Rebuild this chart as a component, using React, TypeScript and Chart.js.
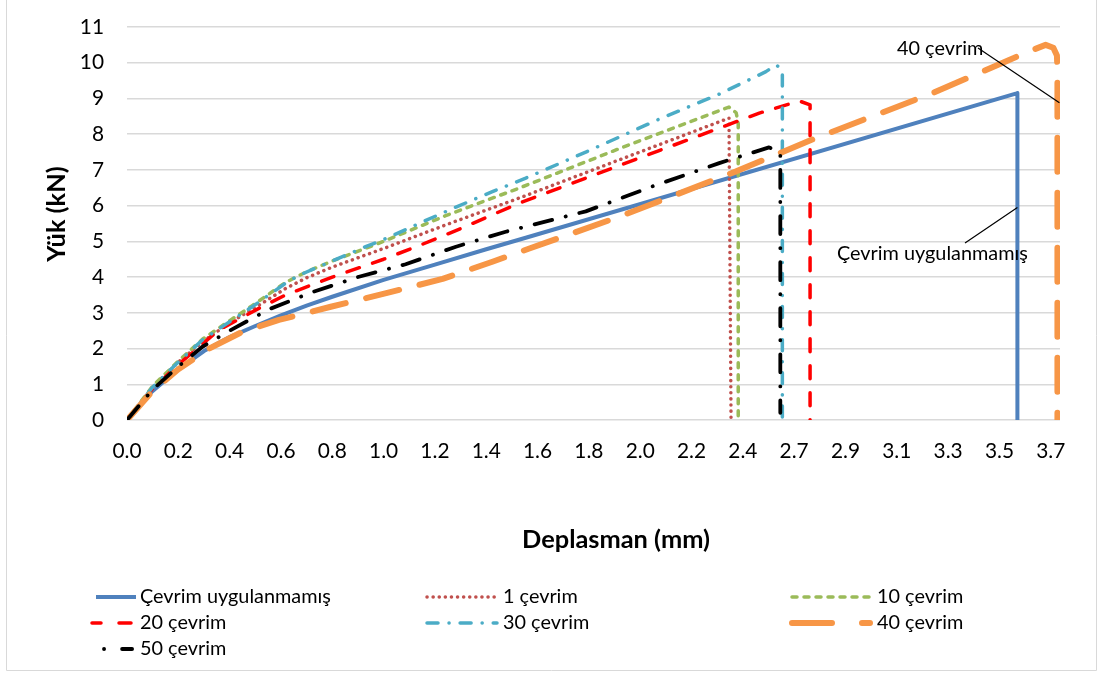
import React, { useEffect, useRef } from 'react';
import { Chart, registerables } from 'chart.js';

Chart.register(...registerables);

const FONT = 'Lato, "Open Sans", sans-serif';

// Category-axis tick labels (Deplasman, mm)
const xTickLabels = ['0.0', '0.2', '0.4', '0.6', '0.8', '1.0', '1.2', '1.4', '1.6', '1.8', '2.0', '2.2', '2.4', '2.7', '2.9', '3.1', '3.3', '3.5', '3.7'];
const yTickValues = [0, 1, 2, 3, 4, 5, 6, 7, 8, 9, 10, 11];

const seriesNames = ['Çevrim uygulanmamış', '1 çevrim', '10 çevrim', '20 çevrim', '30 çevrim', '40 çevrim', '50 çevrim'];

// x = position along the category axis (1 unit = one tick label step), y = Yük (kN)
const x0 = [0, 0.49, 1.0, 1.5, 2.0, 2.5, 3.0, 3.5, 4.0, 5.0, 6.0, 7.0, 7.77, 17.35, 17.35];
const y0 = [0, 0.8, 1.42, 1.93, 2.32, 2.63, 2.93, 3.2, 3.45, 3.92, 4.35, 4.78, 5.1, 9.15, 0];

const x1 = [0, 0.5, 1.0, 1.5, 2.0, 2.5, 3.09, 3.5, 4.0, 5.0, 6.21, 7.64, 9.59, 11.73, 11.77];
const y1 = [0, 0.92, 1.62, 2.22, 2.72, 3.15, 3.68, 3.98, 4.28, 4.8, 5.46, 6.21, 7.28, 8.45, 0];

const x10 = [0, 0.5, 1.0, 1.47, 2.0, 2.44, 3.09, 3.5, 4.0, 5.0, 6.21, 7.64, 9.6, 11.73, 11.87, 11.91, 11.91];
const y10 = [0, 0.95, 1.65, 2.26, 2.78, 3.2, 3.85, 4.15, 4.45, 5.0, 5.72, 6.49, 7.6, 8.76, 8.6, 8.3, 0];

const x20 = [0, 0.5, 1.0, 1.79, 2.63, 3.09, 4.0, 4.5, 5.0, 5.69, 6.54, 7.64, 8.94, 10.37, 11.54, 12.32, 13.1, 13.31, 13.31];
const y20 = [0, 0.88, 1.55, 2.52, 3.17, 3.5, 4.0, 4.25, 4.5, 4.88, 5.38, 6.07, 6.77, 7.54, 8.17, 8.59, 8.93, 8.82, 0];

const x30 = [0, 0.5, 1.0, 1.47, 2.0, 2.44, 3.09, 3.35, 4.0, 4.65, 5.0, 5.69, 6.41, 7.12, 7.77, 8.94, 10.37, 11.54, 12.45, 12.65, 12.77, 12.77];
const y30 = [0, 0.92, 1.62, 2.24, 2.75, 3.17, 3.83, 4.05, 4.45, 4.85, 5.05, 5.5, 5.96, 6.39, 6.77, 7.5, 8.42, 9.12, 9.75, 9.94, 9.8, 0];

const x40 = [0, 0.49, 1.0, 1.6, 2.25, 2.96, 3.97, 5.11, 6.15, 7.12, 7.84, 9.59, 11.87, 13.42, 15.7, 17.58, 17.9, 18.05, 18.12, 18.13, 18.13];
const y40 = [0, 0.8, 1.42, 2.0, 2.47, 2.8, 3.17, 3.57, 3.95, 4.43, 4.8, 5.69, 6.96, 7.89, 9.15, 10.32, 10.5, 10.42, 10.2, 9.8, 0];

const x50 = [0, 0.49, 1.0, 1.47, 2.0, 2.77, 3.61, 4.52, 5.43, 6.41, 7.38, 8.94, 10.24, 11.54, 12.51, 12.73, 12.73];
const y50 = [0, 0.84, 1.5, 2.05, 2.5, 3.1, 3.58, 4.01, 4.36, 4.85, 5.27, 5.84, 6.54, 7.19, 7.63, 7.48, 0.2];

const seriesX = [x0, x1, x10, x20, x30, x40, x50];
const seriesY = [y0, y1, y10, y20, y30, y40, y50];

const colors = ['#4f81bd', '#c0504d', '#9bbb59', '#ff0000', '#4bacc6', '#f79646', '#000000'];
const widths = [4, 3.5, 3.5, 3.5, 3.5, 6, 3.8];
const dashFor: number[][] = [[], [0.1, 6], [5, 7], [13, 14], [11, 11, 0.1, 11], [34, 21], [18, 14, 0.1, 14]];
const legendDash: number[][] = [[], [0.1, 6], [5, 7], [9, 18, 12, 60], [11, 11, 0.1, 11], [40, 30], [0.1, 18, 10, 60]];
const legendStart = [96, 427, 792, 92, 427, 792, 104];

export default function App() {
  const ref = useRef<HTMLCanvasElement>(null);

  useEffect(() => {
    document.body.style.margin = '0';
    const canvas = ref.current!;
    const mctx = canvas.getContext('2d')!;
    mctx.font = `100px ${FONT}`;
    const fs = (100 * 191) / mctx.measureText('Çevrim uygulanmamış').width;
    mctx.font = `bold 100px ${FONT}`;
    const fsb = (100 * 188) / mctx.measureText('Deplasman (mm)').width;
    const fst = fs + 1;

    const overlay = {
      id: 'overlay',
      afterDraw(chart: any) {
        const ctx = chart.ctx as CanvasRenderingContext2D;
        const xs = chart.scales.x;
        const ys = chart.scales.y;
        ctx.save();
        // outer border
        ctx.strokeStyle = '#d9d9d9';
        ctx.lineWidth = 1;
        ctx.beginPath();
        ctx.moveTo(6.5, 0);
        ctx.lineTo(6.5, 670.5);
        ctx.lineTo(1096.5, 670.5);
        ctx.lineTo(1096.5, 0);
        ctx.stroke();

        ctx.fillStyle = '#000';
        // axis titles
        ctx.font = `bold ${fsb}px ${FONT}`;
        ctx.textAlign = 'center';
        ctx.textBaseline = 'middle';
        ctx.fillText('Deplasman (mm)', 616, 540);
        ctx.save();
        ctx.translate(57, 214);
        ctx.rotate(-Math.PI / 2);
        ctx.fillText('Yük (kN)', 0, 0);
        ctx.restore();

        // data labels with leader lines
        ctx.font = `${fs}px ${FONT}`;
        ctx.textAlign = 'left';
        ctx.fillText('40 çevrim', 897, 49);
        ctx.fillText('Çevrim uygulanmamış', 837, 254);
        ctx.strokeStyle = '#000';
        ctx.lineWidth = 1.2;
        ctx.beginPath();
        ctx.moveTo(978, 48);
        ctx.lineTo(xs.getPixelForValue(x40[x40.length - 1]) + 2, ys.getPixelForValue(8.88));
        ctx.moveTo(965, 243);
        ctx.lineTo(xs.getPixelForValue(x0[x0.length - 1]), ys.getPixelForValue(5.95));
        ctx.stroke();

        // legend
        const cols = [[136, 140], [497, 503], [870, 877]];
        const rows = [597, 623, 649];
        seriesNames.forEach((name, i) => {
          const c = cols[i % 3];
          const y = rows[Math.floor(i / 3)];
          ctx.save();
          ctx.strokeStyle = colors[i];
          ctx.lineWidth = widths[i];
          ctx.lineCap = legendDash[i].length ? 'round' : 'butt';
          ctx.setLineDash(legendDash[i]);
          ctx.beginPath();
          ctx.moveTo(legendStart[i], y);
          ctx.lineTo(c[0], y);
          ctx.stroke();
          ctx.restore();
          ctx.fillStyle = '#000';
          ctx.font = `${fs}px ${FONT}`;
          ctx.textAlign = 'left';
          ctx.textBaseline = 'middle';
          ctx.fillText(name, c[1], y);
        });
        ctx.restore();
      },
    };

    const chart = new Chart(canvas, {
      type: 'line',
      data: {
        datasets: seriesNames.map((name, i) => ({
          label: name,
          data: seriesX[i].map((x, j) => ({ x, y: seriesY[i][j] })),
          borderColor: colors[i],
          backgroundColor: colors[i],
          borderWidth: widths[i],
          borderDash: dashFor[i],
          borderCapStyle: dashFor[i].length ? 'round' : 'butt',
          borderJoinStyle: 'round',
          pointRadius: 0,
          fill: false,
          tension: 0,
          order: 6 - i,
        })),
      },
      options: {
        responsive: false,
        animation: false,
        events: [],
        layout: { padding: { left: 0, top: 27, right: 43, bottom: 0 } },
        plugins: { legend: { display: false }, tooltip: { enabled: false } },
        scales: {
          x: {
            type: 'linear',
            min: 0,
            max: 18.18,
            grid: { display: false },
            border: { display: false },
            afterBuildTicks: (s: any) => {
              s.ticks = xTickLabels.map((_, i) => ({ value: i }));
            },
            afterFit: (s: any) => {
              s.height = 257;
              s.paddingLeft = 0;
              s.paddingRight = 0;
            },
            ticks: {
              autoSkip: false,
              maxRotation: 0,
              minRotation: 0,
              padding: 11,
              color: '#000',
              font: { family: FONT, size: fst },
              callback: (v: any) => xTickLabels[Math.round(Number(v))] ?? '',
            },
          },
          y: {
            min: 0,
            max: 11,
            afterBuildTicks: (s: any) => {
              s.ticks = yTickValues.map((v) => ({ value: v }));
            },
            afterFit: (s: any) => {
              s.width = 127;
              s.paddingTop = 0;
              s.paddingBottom = 0;
            },
            grid: { color: '#d9d9d9', lineWidth: 1.5, drawTicks: false },
            border: { display: false },
            ticks: {
              padding: 23,
              color: '#000',
              font: { family: FONT, size: fst },
            },
          },
        },
      },
      plugins: [overlay],
    } as any);
    return () => chart.destroy();
  }, []);

  return (
    <div style={{ position: 'fixed', left: 0, top: 0, width: 1103, height: 677, background: '#fff' }}>
      <canvas ref={ref} width={1103} height={677} style={{ width: 1103, height: 677, display: 'block' }} />
    </div>
  );
}
